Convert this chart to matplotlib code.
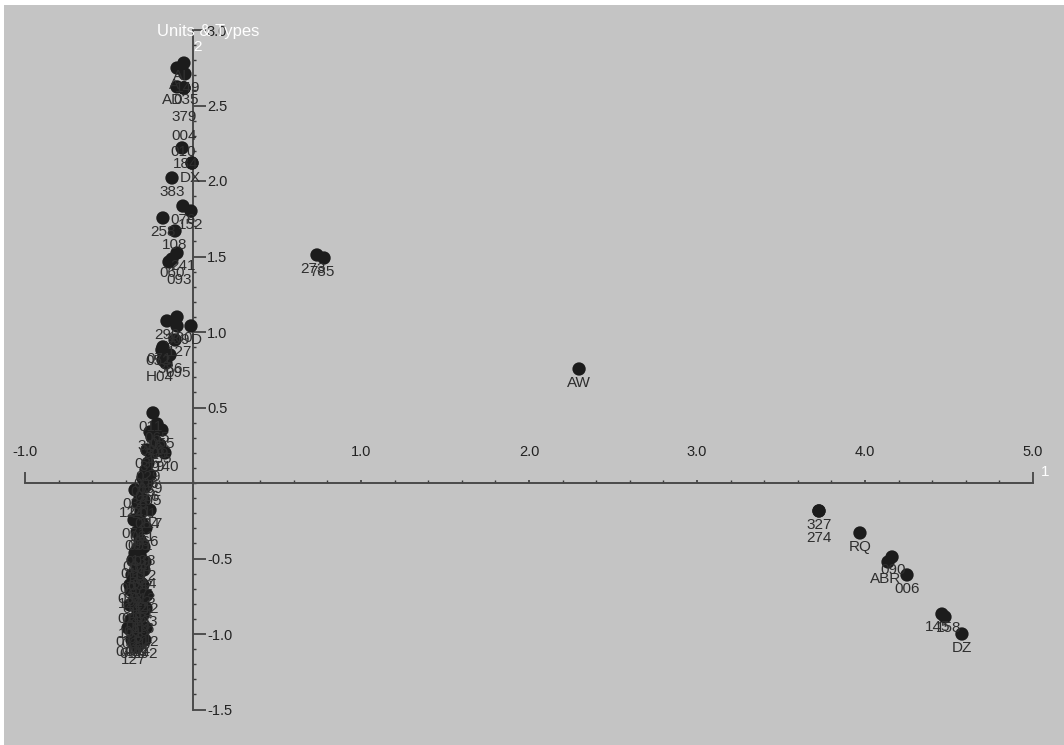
import numpy as np
import matplotlib
matplotlib.use("Agg")
import matplotlib.pyplot as plt
from matplotlib.ticker import FixedLocator, FuncFormatter

plt.rcParams['font.family'] = ['Liberation Sans', 'DejaVu Sans']

# Point labels and coordinates (dimension 1, dimension 2)
codes = [
    # upper cluster
    "AI", "A", "149", "AD", "035", "379", "004", "010", "184", "DX",
    "383", "076", "152", "258", "108", "241", "060", "093",
    # middle cluster
    "290", "130", "309", "D", "127", "071", "052", "386", "H04", "095",
    # lower cluster
    "011", "065", "316", "026", "309", "140", "319", "029", "006", "015",
    "016", "205", "121", "201", "124", "084", "061", "005", "051", "009",
    "104", "111", "032", "017", "012", "042", "114", "023", "073", "088",
    "031", "021", "041", "102", "122", "013", "101", "116", "027", "044",
    "0412", "127",
    "019", "112", "033", "142", "018", "103", "071", "212", "011", "092",
    "034", "138", "071", "066", "217", "036", "039", "035", "155", "055",
    # far points
    "273", "785", "AW", "327", "274", "RQ", "090", "ABR", "006", "145",
    "158", "DZ",
]
dim1 = [
    -0.054, -0.095, -0.048, -0.095, -0.054, -0.054, -0.054, -0.065, -0.006, -0.006,
    -0.125, -0.060, -0.012, -0.179, -0.107, -0.095, -0.125, -0.143,
    -0.155, -0.095, -0.095, -0.012, -0.107, -0.179, -0.185, -0.137, -0.179, -0.161,
    -0.238, -0.214, -0.256, -0.244, -0.220, -0.167, -0.244, -0.268, -0.280, -0.298,
    -0.274, -0.286, -0.315, -0.292, -0.327, -0.310, -0.304, -0.333, -0.315, -0.327,
    -0.315, -0.333, -0.315, -0.339, -0.321, -0.345, -0.310, -0.351, -0.327, -0.339,
    -0.315, -0.351, -0.333, -0.321, -0.369, -0.298, -0.369, -0.298, -0.363, -0.292,
    -0.345, -0.330,
    -0.357, -0.286, -0.375, -0.274, -0.375, -0.280, -0.387, -0.280, -0.363, -0.286,
    -0.345, -0.292, -0.351, -0.280, -0.256, -0.345, -0.256, -0.274, -0.196, -0.185,
    0.738, 0.780, 2.298, 3.726, 3.726, 3.970, 4.161, 4.137, 4.250, 4.458,
    4.476, 4.577,
]
dim2 = [
    2.781, 2.748, 2.709, 2.623, 2.616, 2.616, 2.616, 2.219, 2.119, 2.119,
    2.020, 1.834, 1.801, 1.755, 1.669, 1.523, 1.483, 1.464,
    1.073, 1.099, 1.040, 1.040, 0.947, 0.901, 0.881, 0.848, 0.815, 0.795,
    0.464, 0.391, 0.338, 0.305, 0.272, 0.199, 0.199, 0.132, 0.086, 0.033,
    0.000, -0.026, -0.099, -0.113, -0.132, -0.192, -0.265, -0.325, -0.377, -0.430,
    -0.477, -0.543, -0.589, -0.642, -0.695, -0.742, -0.775, -0.808, -0.854, -0.894,
    -0.940, -0.974, -1.026, -1.005, -0.709, -0.675, -0.907, -0.874, -0.609, -0.576,
    -1.060, -1.085,
    -0.510, -0.523, -0.675, -0.742, -0.808, -0.828, -0.960, -0.960, -1.040, -1.040,
    -0.464, -0.424, -0.245, -0.298, -0.179, -0.046, 0.053, 0.219, 0.252, 0.351,
    1.510, 1.490, 0.755, -0.185, -0.185, -0.331, -0.490, -0.523, -0.609, -0.868,
    -0.887, -1.000,
]

# label offsets in pixels (dx, dy below point); default is (0, 14)
label_shift = {
    0: (-4, 13), 1: (-3, 17), 2: (3, 14), 3: (-5, 13), 4: (2, 12), 5: (0, 29),
    6: (0, 48), 7: (1, 4), 8: (-6, 1), 9: (-2, 15), 15: (6, 13), 17: (10, 18),
    19: (4, 21), 21: (5, 14), 22: (5, 12), 23: (-4, 12), 24: (-4, 11),
    26: (-3, 17), 27: (12, 10), 28: (-2, 14), 32: (0, 12), 33: (2, 14),
    39: (4, 14), 42: (-6, 10), 43: (6, 12), 46: (0, 6),
    68: (-3, 9), 69: (-4, 13),
    70: (-4, 14), 71: (-2, 14), 74: (0, 27), 76: (1, 13), 77: (-2, 17),
    78: (0, 14), 79: (-4, 13), 80: (4, 11),
}

fig = plt.figure(figsize=(10.64, 7.45), dpi=100, facecolor='white')
ax = fig.add_axes([4 / 1064, 0, 1060 / 1064, 740 / 745])
ax.set_facecolor('#c4c4c4')

# pixel mapping: x px = 193 + 168*x, y px = 483 - 151*y
ax.set_xlim((4 - 193) / 168, (1064 - 193) / 168)
ax.set_ylim((483 - 745) / 151, (483 - 5) / 151)

ax.scatter(dim1, dim2, s=92, color='#1c1c1c', edgecolors='none', zorder=3)

far = len(codes) - 12
for i, (c, x, y) in enumerate(zip(codes, dim1, dim2)):
    if i >= far:
        key = 70 + (i - far)
    elif i >= 70:
        key = None
    else:
        key = i
    dx, dy = label_shift.get(key, (0, 14))
    ax.annotate(c, (x, y), xytext=(dx, -dy), textcoords='offset pixels',
                ha='center', va='center', fontsize=11, color='#2e2e2e', zorder=4)

# axes crossing at the origin
for s in ['left', 'bottom']:
    ax.spines[s].set_visible(False)
ax.spines['top'].set_position(('data', 0))
ax.spines['right'].set_position(('data', 0))
ax.spines['top'].set_bounds(-1.0, 5.0)
ax.spines['right'].set_bounds(-1.5, 3.0)
for s in ['top', 'right']:
    ax.spines[s].set_color('#4a4a4a')
    ax.spines[s].set_linewidth(1.4)

ax.xaxis.set_ticks_position('top')
ax.yaxis.set_ticks_position('right')
ax.xaxis.set_major_locator(FixedLocator([-1, 1, 2, 3, 4, 5]))
ax.xaxis.set_minor_locator(FixedLocator(np.arange(-1.0, 5.01, 0.2)))
ax.yaxis.set_major_locator(FixedLocator([-1.5, -1.0, -0.5, 0.5, 1.0, 1.5, 2.0, 2.5, 3.0]))
ax.yaxis.set_minor_locator(FixedLocator(np.arange(-1.5, 3.01, 0.1)))
fmt = FuncFormatter(lambda v, p: '%.1f' % v)
ax.xaxis.set_major_formatter(fmt)
ax.yaxis.set_major_formatter(fmt)
ax.tick_params(axis='x', which='major', direction='out', length=2.5, width=1.2,
               color='#3a3a3a', pad=15, labelsize=10.5, labelcolor='#222222')
ax.tick_params(axis='y', which='major', direction='out', length=9, width=1.2,
               color='#3a3a3a', pad=1, labelsize=10.5, labelcolor='#222222')
ax.tick_params(which='minor', direction='out', length=2.5, width=1.0, color='#3a3a3a')

# taller end ticks on the horizontal axis
xt = ax.xaxis.get_major_ticks()
for t in (xt[0], xt[-1]):
    t.tick2line.set_markersize(8)

ax.text(0.089, 2.99, 'Units & Types', color='white', fontsize=12,
        ha='center', va='center', zorder=5)
ax.text(0.024, 2.887, '2', color='white', fontsize=11, ha='center', va='center', zorder=5)
ax.text(5.07, 0.073, '1', color='white', fontsize=11, ha='center', va='center', zorder=5)

fig.savefig('out.png', dpi=100, facecolor=fig.get_facecolor())
